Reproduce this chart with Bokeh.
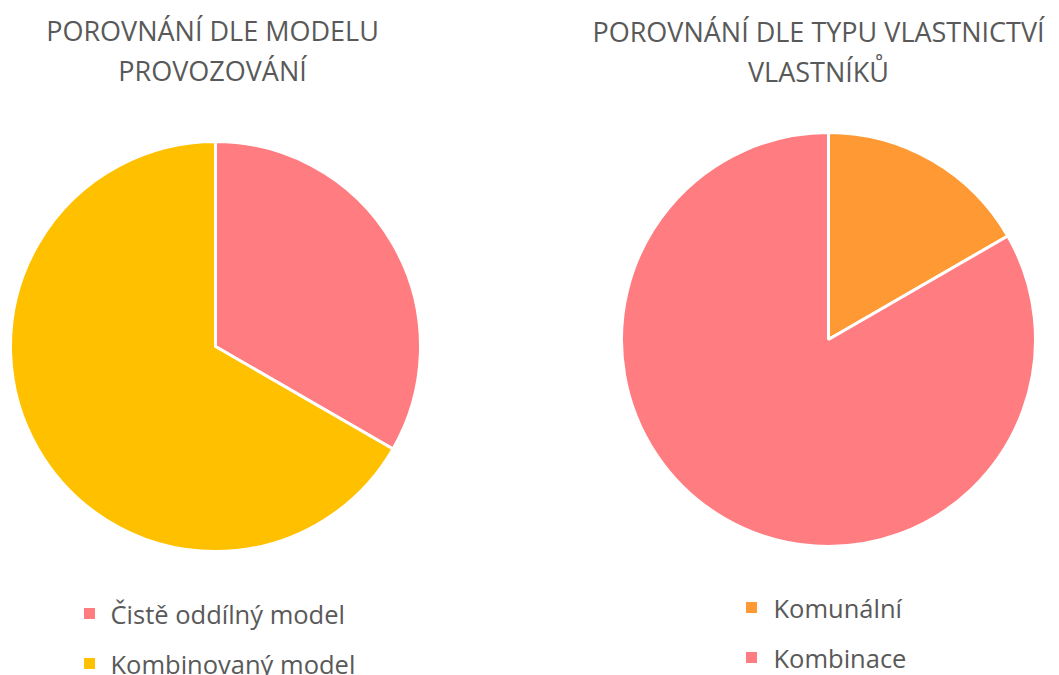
import math
from bokeh.plotting import figure
from bokeh.models import Range1d
from bokeh.core.properties import value
from bokeh.embed import file_html
from bokeh.resources import INLINE

# ---- data ----
left_title = ["POROVNÁNÍ DLE MODELU", "PROVOZOVÁNÍ"]
left_labels = ["Čistě oddílný model", "Kombinovaný model"]
left_values = [1, 2]
left_colors = ["#FF7C80", "#FFC000"]

right_title = ["POROVNÁNÍ DLE TYPU VLASTNICTVÍ", "VLASTNÍKŮ"]
right_labels = ["Komunální", "Kombinace"]
right_values = [1, 5]
right_colors = ["#FF9933", "#FF7C80"]

W, H = 1059, 675
FONT = "Open Sans"
TXT = "#595959"

p = figure(width=W, height=H, output_backend="svg", toolbar_location=None,
           x_range=Range1d(0, W), y_range=Range1d(0, H), min_border=0)
p.axis.visible = False
p.grid.visible = False
p.outline_line_color = None
p.background_fill_color = "white"


def Y(sy):
    return H - sy


def pie(cx, cy, r, vals, colors):
    tot = sum(vals)
    cum = 0.0
    starts, ends = [], []
    for v in vals:
        starts.append(math.pi / 2 - 2 * math.pi * cum / tot)
        cum += v
        ends.append(math.pi / 2 - 2 * math.pi * cum / tot)
    p.wedge(x=[cx] * len(vals), y=[Y(cy)] * len(vals), radius=r, radius_units="screen",
            start_angle=starts, end_angle=ends, direction="clock",
            fill_color=colors, line_color="white", line_width=3)


def title(cx, lines, y0, dy):
    for i, t in enumerate(lines):
        p.text(x=[cx], y=[Y(y0 + i * dy)], text=[t], text_font=value(FONT),
               text_font_size="27px", text_color=TXT, text_align="center",
               text_baseline="middle")


def legend(sqx, tx, y0, dy, labels, colors):
    for i, (lab, c) in enumerate(zip(labels, colors)):
        yy = y0 + i * dy
        p.scatter(x=[sqx], y=[Y(yy)], marker="square", size=11, fill_color=c, line_color=None)
        p.text(x=[tx], y=[Y(yy)], text=[lab], text_font=value(FONT),
               text_font_size="25.5px", text_color=TXT, text_align="left",
               text_baseline="middle")


pie(215, 346, 205, left_values, left_colors)
pie(828, 339, 207, right_values, right_colors)

title(212, left_title, 30, 40)
title(818, right_title, 31, 40)

legend(89, 110, 613, 50, left_labels, left_colors)
legend(751, 773, 607, 50, right_labels, right_colors)

open("out.html", "w").write(file_html(p, INLINE))
